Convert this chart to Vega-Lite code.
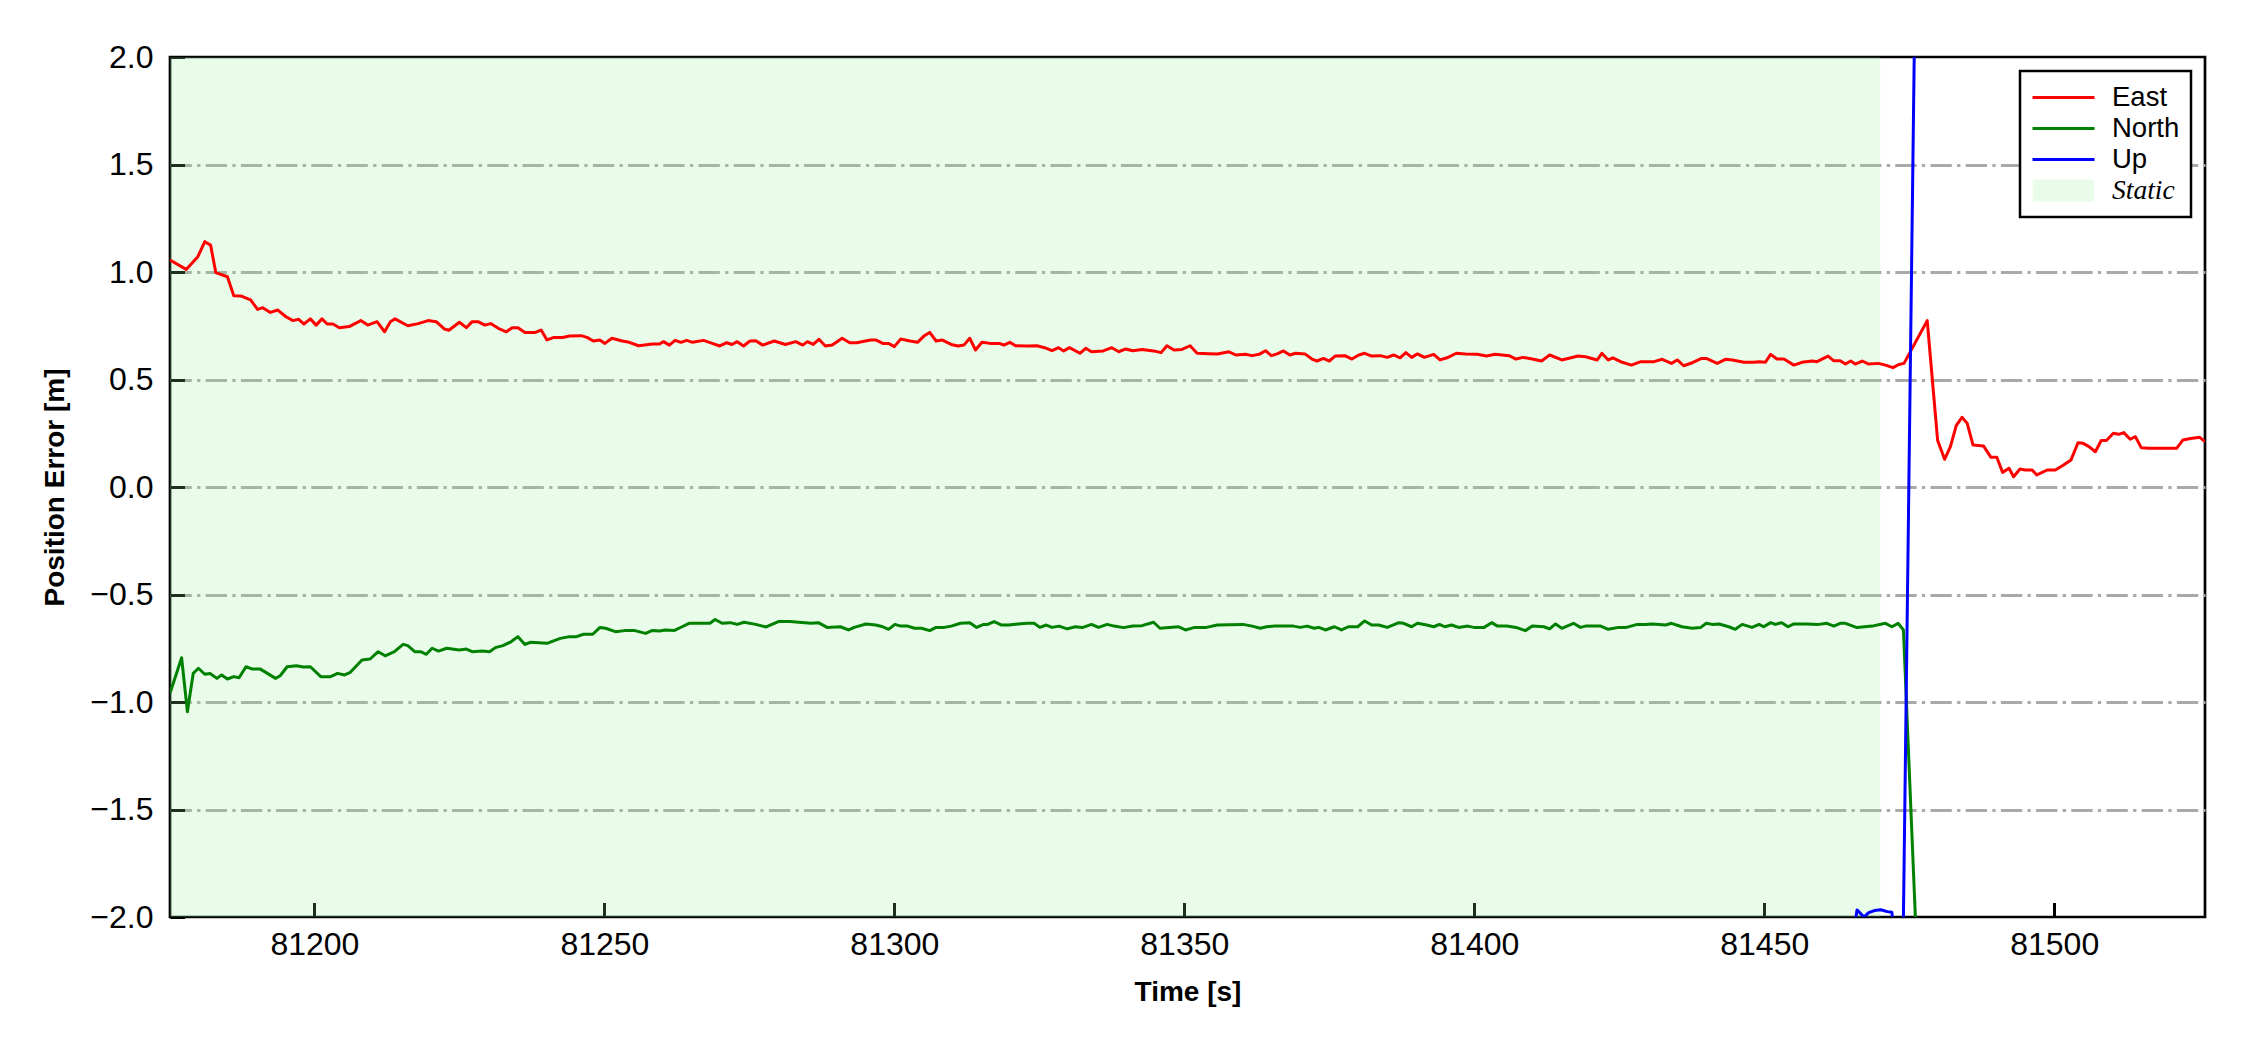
{
  "$schema": "https://vega.github.io/schema/vega-lite/v6.json",
  "width": 2035,
  "height": 860,
  "autosize": "none",
  "padding": {"left": 170, "top": 57, "right": 45, "bottom": 133},
  "background": "white",
  "config": {
    "font": "Liberation Sans",
    "view": {"stroke": "black", "strokeWidth": 2.7}
  },
  "datasets": {
    "static": [{"label": "Static", "start": 81175.1, "end": 81470}],
    "series": [
      {"s":"East","t":81175.1,"v":1.056},{"s":"East","t":81177.9,"v":1.012},{"s":"East","t":81179.9,"v":1.071},{"s":"East","t":81181.1,"v":1.141},{"s":"East","t":81182.1,"v":1.125},{"s":"East","t":81183.0,"v":0.997},{"s":"East","t":81185.0,"v":0.978},{"s":"East","t":81186.1,"v":0.89},{"s":"East","t":81187.4,"v":0.888},{"s":"East","t":81189.0,"v":0.87},{"s":"East","t":81190.2,"v":0.826},{"s":"East","t":81191.1,"v":0.834},{"s":"East","t":81192.4,"v":0.812},{"s":"East","t":81193.7,"v":0.823},{"s":"East","t":81195.1,"v":0.792},{"s":"East","t":81196.3,"v":0.774},{"s":"East","t":81197.3,"v":0.78},{"s":"East","t":81198.2,"v":0.758},{"s":"East","t":81199.3,"v":0.782},{"s":"East","t":81200.3,"v":0.753},{"s":"East","t":81201.3,"v":0.782},{"s":"East","t":81202.2,"v":0.758},{"s":"East","t":81203.2,"v":0.758},{"s":"East","t":81204.3,"v":0.741},{"s":"East","t":81206.0,"v":0.746},{"s":"East","t":81208.0,"v":0.774},{"s":"East","t":81209.2,"v":0.753},{"s":"East","t":81210.8,"v":0.769},{"s":"East","t":81212.1,"v":0.722},{"s":"East","t":81213.1,"v":0.769},{"s":"East","t":81213.9,"v":0.782},{"s":"East","t":81216.1,"v":0.75},{"s":"East","t":81217.9,"v":0.76},{"s":"East","t":81219.6,"v":0.774},{"s":"East","t":81221.0,"v":0.769},{"s":"East","t":81222.4,"v":0.735},{"s":"East","t":81223.2,"v":0.729},{"s":"East","t":81225.0,"v":0.766},{"s":"East","t":81226.2,"v":0.741},{"s":"East","t":81227.2,"v":0.769},{"s":"East","t":81228.2,"v":0.769},{"s":"East","t":81229.4,"v":0.753},{"s":"East","t":81230.4,"v":0.76},{"s":"East","t":81231.7,"v":0.738},{"s":"East","t":81233.1,"v":0.722},{"s":"East","t":81234.1,"v":0.741},{"s":"East","t":81235.1,"v":0.741},{"s":"East","t":81236.3,"v":0.719},{"s":"East","t":81238.1,"v":0.719},{"s":"East","t":81239.1,"v":0.73},{"s":"East","t":81240.1,"v":0.684},{"s":"East","t":81241.2,"v":0.695},{"s":"East","t":81242.8,"v":0.695},{"s":"East","t":81244.0,"v":0.702},{"s":"East","t":81246.0,"v":0.704},{"s":"East","t":81247.0,"v":0.696},{"s":"East","t":81248.1,"v":0.679},{"s":"East","t":81249.2,"v":0.684},{"s":"East","t":81250.1,"v":0.668},{"s":"East","t":81251.3,"v":0.692},{"s":"East","t":81253.1,"v":0.679},{"s":"East","t":81254.3,"v":0.673},{"s":"East","t":81255.9,"v":0.657},{"s":"East","t":81258.3,"v":0.665},{"s":"East","t":81259.5,"v":0.665},{"s":"East","t":81260.2,"v":0.676},{"s":"East","t":81261.2,"v":0.66},{"s":"East","t":81262.2,"v":0.682},{"s":"East","t":81263.2,"v":0.673},{"s":"East","t":81264.2,"v":0.682},{"s":"East","t":81265.2,"v":0.673},{"s":"East","t":81267.1,"v":0.682},{"s":"East","t":81268.6,"v":0.668},{"s":"East","t":81269.9,"v":0.656},{"s":"East","t":81271.1,"v":0.671},{"s":"East","t":81272.0,"v":0.663},{"s":"East","t":81272.9,"v":0.676},{"s":"East","t":81274.0,"v":0.656},{"s":"East","t":81275.1,"v":0.679},{"s":"East","t":81276.1,"v":0.68},{"s":"East","t":81277.3,"v":0.66},{"s":"East","t":81279.3,"v":0.679},{"s":"East","t":81281.2,"v":0.663},{"s":"East","t":81283.0,"v":0.676},{"s":"East","t":81284.2,"v":0.66},{"s":"East","t":81285.0,"v":0.676},{"s":"East","t":81286.0,"v":0.663},{"s":"East","t":81287.0,"v":0.687},{"s":"East","t":81288.1,"v":0.656},{"s":"East","t":81289.3,"v":0.66},{"s":"East","t":81291.0,"v":0.692},{"s":"East","t":81292.3,"v":0.671},{"s":"East","t":81293.5,"v":0.671},{"s":"East","t":81295.9,"v":0.684},{"s":"East","t":81296.8,"v":0.684},{"s":"East","t":81298.0,"v":0.668},{"s":"East","t":81299.0,"v":0.668},{"s":"East","t":81300.0,"v":0.653},{"s":"East","t":81301.1,"v":0.688},{"s":"East","t":81302.7,"v":0.679},{"s":"East","t":81304.0,"v":0.673},{"s":"East","t":81305.1,"v":0.702},{"s":"East","t":81306.1,"v":0.719},{"s":"East","t":81307.2,"v":0.679},{"s":"East","t":81308.2,"v":0.684},{"s":"East","t":81309.8,"v":0.663},{"s":"East","t":81311.0,"v":0.656},{"s":"East","t":81312.0,"v":0.66},{"s":"East","t":81313.0,"v":0.692},{"s":"East","t":81314.0,"v":0.637},{"s":"East","t":81315.1,"v":0.673},{"s":"East","t":81316.5,"v":0.668},{"s":"East","t":81318.1,"v":0.668},{"s":"East","t":81318.9,"v":0.66},{"s":"East","t":81319.9,"v":0.673},{"s":"East","t":81320.9,"v":0.657},{"s":"East","t":81322.9,"v":0.656},{"s":"East","t":81324.6,"v":0.657},{"s":"East","t":81325.9,"v":0.648},{"s":"East","t":81327.2,"v":0.634},{"s":"East","t":81328.3,"v":0.648},{"s":"East","t":81329.2,"v":0.633},{"s":"East","t":81330.2,"v":0.648},{"s":"East","t":81332.0,"v":0.622},{"s":"East","t":81333.0,"v":0.645},{"s":"East","t":81334.0,"v":0.629},{"s":"East","t":81336.0,"v":0.633},{"s":"East","t":81337.5,"v":0.648},{"s":"East","t":81338.7,"v":0.629},{"s":"East","t":81339.9,"v":0.642},{"s":"East","t":81341.1,"v":0.634},{"s":"East","t":81342.7,"v":0.64},{"s":"East","t":81344.7,"v":0.633},{"s":"East","t":81346.0,"v":0.625},{"s":"East","t":81347.0,"v":0.657},{"s":"East","t":81348.2,"v":0.637},{"s":"East","t":81349.6,"v":0.64},{"s":"East","t":81351.0,"v":0.657},{"s":"East","t":81352.2,"v":0.622},{"s":"East","t":81354.2,"v":0.62},{"s":"East","t":81355.7,"v":0.619},{"s":"East","t":81357.7,"v":0.629},{"s":"East","t":81358.9,"v":0.614},{"s":"East","t":81360.5,"v":0.617},{"s":"East","t":81361.7,"v":0.611},{"s":"East","t":81362.9,"v":0.617},{"s":"East","t":81364.0,"v":0.634},{"s":"East","t":81365.0,"v":0.611},{"s":"East","t":81366.0,"v":0.619},{"s":"East","t":81367.1,"v":0.633},{"s":"East","t":81368.2,"v":0.614},{"s":"East","t":81369.2,"v":0.622},{"s":"East","t":81370.8,"v":0.619},{"s":"East","t":81372.0,"v":0.595},{"s":"East","t":81372.9,"v":0.586},{"s":"East","t":81374.0,"v":0.598},{"s":"East","t":81375.0,"v":0.586},{"s":"East","t":81376.0,"v":0.609},{"s":"East","t":81377.7,"v":0.611},{"s":"East","t":81378.9,"v":0.595},{"s":"East","t":81380.1,"v":0.614},{"s":"East","t":81381.1,"v":0.622},{"s":"East","t":81382.3,"v":0.609},{"s":"East","t":81383.8,"v":0.611},{"s":"East","t":81385.0,"v":0.603},{"s":"East","t":81386.1,"v":0.614},{"s":"East","t":81387.2,"v":0.601},{"s":"East","t":81388.2,"v":0.625},{"s":"East","t":81389.2,"v":0.603},{"s":"East","t":81390.2,"v":0.619},{"s":"East","t":81391.4,"v":0.603},{"s":"East","t":81393.0,"v":0.617},{"s":"East","t":81394.1,"v":0.591},{"s":"East","t":81395.3,"v":0.601},{"s":"East","t":81396.9,"v":0.622},{"s":"East","t":81398.5,"v":0.619},{"s":"East","t":81400.5,"v":0.617},{"s":"East","t":81402.1,"v":0.609},{"s":"East","t":81403.6,"v":0.617},{"s":"East","t":81406.0,"v":0.611},{"s":"East","t":81407.2,"v":0.595},{"s":"East","t":81408.4,"v":0.603},{"s":"East","t":81410.0,"v":0.595},{"s":"East","t":81411.6,"v":0.586},{"s":"East","t":81413.0,"v":0.614},{"s":"East","t":81415.1,"v":0.591},{"s":"East","t":81417.9,"v":0.609},{"s":"East","t":81419.2,"v":0.606},{"s":"East","t":81421.2,"v":0.591},{"s":"East","t":81422.0,"v":0.622},{"s":"East","t":81423.1,"v":0.591},{"s":"East","t":81423.9,"v":0.601},{"s":"East","t":81425.5,"v":0.58},{"s":"East","t":81427.1,"v":0.567},{"s":"East","t":81428.7,"v":0.583},{"s":"East","t":81431.0,"v":0.583},{"s":"East","t":81432.4,"v":0.594},{"s":"East","t":81434.0,"v":0.575},{"s":"East","t":81435.0,"v":0.591},{"s":"East","t":81436.1,"v":0.564},{"s":"East","t":81437.6,"v":0.578},{"s":"East","t":81439.2,"v":0.598},{"s":"East","t":81440.0,"v":0.598},{"s":"East","t":81441.9,"v":0.575},{"s":"East","t":81443.3,"v":0.594},{"s":"East","t":81444.5,"v":0.591},{"s":"East","t":81446.5,"v":0.58},{"s":"East","t":81448.2,"v":0.58},{"s":"East","t":81449.1,"v":0.583},{"s":"East","t":81450.2,"v":0.58},{"s":"East","t":81451.1,"v":0.617},{"s":"East","t":81452.2,"v":0.595},{"s":"East","t":81453.4,"v":0.595},{"s":"East","t":81455.1,"v":0.567},{"s":"East","t":81456.5,"v":0.58},{"s":"East","t":81458.3,"v":0.586},{"s":"East","t":81459.1,"v":0.583},{"s":"East","t":81461.0,"v":0.609},{"s":"East","t":81462.0,"v":0.587},{"s":"East","t":81463.1,"v":0.587},{"s":"East","t":81464.0,"v":0.572},{"s":"East","t":81464.9,"v":0.586},{"s":"East","t":81465.7,"v":0.572},{"s":"East","t":81466.9,"v":0.586},{"s":"East","t":81468.0,"v":0.572},{"s":"East","t":81469.7,"v":0.575},{"s":"East","t":81470.9,"v":0.567},{"s":"East","t":81472.2,"v":0.555},{"s":"East","t":81473.2,"v":0.57},{"s":"East","t":81474.1,"v":0.575},{"s":"East","t":81478.1,"v":0.774},{"s":"East","t":81479.9,"v":0.216},{"s":"East","t":81481.1,"v":0.129},{"s":"East","t":81482.1,"v":0.188},{"s":"East","t":81483.1,"v":0.285},{"s":"East","t":81484.1,"v":0.324},{"s":"East","t":81485.0,"v":0.296},{"s":"East","t":81486.0,"v":0.195},{"s":"East","t":81487.8,"v":0.191},{"s":"East","t":81489.1,"v":0.138},{"s":"East","t":81490.1,"v":0.138},{"s":"East","t":81491.1,"v":0.068},{"s":"East","t":81492.2,"v":0.087},{"s":"East","t":81493.0,"v":0.048},{"s":"East","t":81494.1,"v":0.084},{"s":"East","t":81495.0,"v":0.079},{"s":"East","t":81496.2,"v":0.079},{"s":"East","t":81497.0,"v":0.056},{"s":"East","t":81498.8,"v":0.079},{"s":"East","t":81500.2,"v":0.079},{"s":"East","t":81501.6,"v":0.102},{"s":"East","t":81502.9,"v":0.126},{"s":"East","t":81504.1,"v":0.206},{"s":"East","t":81505.0,"v":0.203},{"s":"East","t":81506.0,"v":0.188},{"s":"East","t":81507.1,"v":0.164},{"s":"East","t":81508.1,"v":0.216},{"s":"East","t":81509.0,"v":0.216},{"s":"East","t":81510.2,"v":0.25},{"s":"East","t":81511.1,"v":0.245},{"s":"East","t":81512.0,"v":0.253},{"s":"East","t":81513.1,"v":0.222},{"s":"East","t":81514.0,"v":0.234},{"s":"East","t":81515.0,"v":0.183},{"s":"East","t":81516.3,"v":0.18},{"s":"East","t":81521.1,"v":0.18},{"s":"East","t":81522.2,"v":0.219},{"s":"East","t":81523.5,"v":0.226},{"s":"East","t":81525.1,"v":0.231},{"s":"East","t":81526.0,"v":0.211},
      {"s":"North","t":81175.1,"v":-0.96},{"s":"North","t":81177.1,"v":-0.794},{"s":"North","t":81178.1,"v":-1.045},{"s":"North","t":81179.1,"v":-0.867},{"s":"North","t":81180.0,"v":-0.843},{"s":"North","t":81181.1,"v":-0.871},{"s":"North","t":81182.0,"v":-0.867},{"s":"North","t":81183.2,"v":-0.89},{"s":"North","t":81184.0,"v":-0.874},{"s":"North","t":81185.0,"v":-0.893},{"s":"North","t":81186.1,"v":-0.882},{"s":"North","t":81187.0,"v":-0.887},{"s":"North","t":81188.2,"v":-0.836},{"s":"North","t":81189.2,"v":-0.846},{"s":"North","t":81190.6,"v":-0.846},{"s":"North","t":81191.9,"v":-0.867},{"s":"North","t":81193.3,"v":-0.89},{"s":"North","t":81194.1,"v":-0.878},{"s":"North","t":81195.3,"v":-0.836},{"s":"North","t":81196.9,"v":-0.831},{"s":"North","t":81198.1,"v":-0.837},{"s":"North","t":81199.3,"v":-0.836},{"s":"North","t":81201.1,"v":-0.882},{"s":"North","t":81202.8,"v":-0.882},{"s":"North","t":81204.0,"v":-0.867},{"s":"North","t":81205.2,"v":-0.874},{"s":"North","t":81206.2,"v":-0.862},{"s":"North","t":81208.2,"v":-0.805},{"s":"North","t":81209.6,"v":-0.8},{"s":"North","t":81211.0,"v":-0.766},{"s":"North","t":81212.2,"v":-0.785},{"s":"North","t":81213.8,"v":-0.766},{"s":"North","t":81215.3,"v":-0.732},{"s":"North","t":81216.1,"v":-0.738},{"s":"North","t":81217.3,"v":-0.766},{"s":"North","t":81218.3,"v":-0.766},{"s":"North","t":81219.3,"v":-0.778},{"s":"North","t":81220.3,"v":-0.75},{"s":"North","t":81221.4,"v":-0.763},{"s":"North","t":81222.8,"v":-0.75},{"s":"North","t":81225.0,"v":-0.758},{"s":"North","t":81226.2,"v":-0.754},{"s":"North","t":81227.2,"v":-0.766},{"s":"North","t":81229.0,"v":-0.763},{"s":"North","t":81230.2,"v":-0.766},{"s":"North","t":81231.2,"v":-0.747},{"s":"North","t":81232.5,"v":-0.738},{"s":"North","t":81233.9,"v":-0.72},{"s":"North","t":81235.1,"v":-0.696},{"s":"North","t":81236.3,"v":-0.732},{"s":"North","t":81237.3,"v":-0.722},{"s":"North","t":81240.1,"v":-0.727},{"s":"North","t":81242.4,"v":-0.704},{"s":"North","t":81244.0,"v":-0.696},{"s":"North","t":81245.2,"v":-0.696},{"s":"North","t":81246.4,"v":-0.685},{"s":"North","t":81248.0,"v":-0.685},{"s":"North","t":81249.2,"v":-0.654},{"s":"North","t":81250.2,"v":-0.657},{"s":"North","t":81251.9,"v":-0.673},{"s":"North","t":81253.5,"v":-0.668},{"s":"North","t":81255.1,"v":-0.667},{"s":"North","t":81257.1,"v":-0.681},{"s":"North","t":81258.3,"v":-0.667},{"s":"North","t":81259.5,"v":-0.67},{"s":"North","t":81260.5,"v":-0.665},{"s":"North","t":81262.1,"v":-0.667},{"s":"North","t":81263.4,"v":-0.65},{"s":"North","t":81264.6,"v":-0.634},{"s":"North","t":81268.2,"v":-0.634},{"s":"North","t":81269.1,"v":-0.616},{"s":"North","t":81270.3,"v":-0.634},{"s":"North","t":81271.7,"v":-0.631},{"s":"North","t":81272.9,"v":-0.639},{"s":"North","t":81274.1,"v":-0.629},{"s":"North","t":81276.1,"v":-0.639},{"s":"North","t":81277.9,"v":-0.651},{"s":"North","t":81280.0,"v":-0.626},{"s":"North","t":81282.0,"v":-0.626},{"s":"North","t":81285.6,"v":-0.634},{"s":"North","t":81286.9,"v":-0.631},{"s":"North","t":81288.4,"v":-0.653},{"s":"North","t":81290.7,"v":-0.65},{"s":"North","t":81292.1,"v":-0.665},{"s":"North","t":81293.1,"v":-0.653},{"s":"North","t":81295.1,"v":-0.637},{"s":"North","t":81296.8,"v":-0.642},{"s":"North","t":81298.0,"v":-0.65},{"s":"North","t":81299.0,"v":-0.662},{"s":"North","t":81300.1,"v":-0.639},{"s":"North","t":81301.1,"v":-0.647},{"s":"North","t":81302.3,"v":-0.647},{"s":"North","t":81303.5,"v":-0.657},{"s":"North","t":81304.7,"v":-0.657},{"s":"North","t":81306.1,"v":-0.668},{"s":"North","t":81307.2,"v":-0.653},{"s":"North","t":81308.6,"v":-0.653},{"s":"North","t":81309.8,"v":-0.647},{"s":"North","t":81311.4,"v":-0.634},{"s":"North","t":81313.0,"v":-0.631},{"s":"North","t":81314.2,"v":-0.653},{"s":"North","t":81315.4,"v":-0.639},{"s":"North","t":81316.1,"v":-0.639},{"s":"North","t":81317.2,"v":-0.626},{"s":"North","t":81318.5,"v":-0.642},{"s":"North","t":81319.7,"v":-0.642},{"s":"North","t":81321.3,"v":-0.637},{"s":"North","t":81322.9,"v":-0.634},{"s":"North","t":81324.1,"v":-0.634},{"s":"North","t":81325.1,"v":-0.653},{"s":"North","t":81326.2,"v":-0.642},{"s":"North","t":81327.2,"v":-0.653},{"s":"North","t":81328.4,"v":-0.647},{"s":"North","t":81329.8,"v":-0.66},{"s":"North","t":81331.2,"v":-0.65},{"s":"North","t":81332.4,"v":-0.654},{"s":"North","t":81334.0,"v":-0.639},{"s":"North","t":81335.2,"v":-0.653},{"s":"North","t":81336.7,"v":-0.639},{"s":"North","t":81337.9,"v":-0.647},{"s":"North","t":81339.5,"v":-0.654},{"s":"North","t":81341.1,"v":-0.647},{"s":"North","t":81342.7,"v":-0.645},{"s":"North","t":81344.7,"v":-0.629},{"s":"North","t":81345.8,"v":-0.657},{"s":"North","t":81347.4,"v":-0.653},{"s":"North","t":81349.0,"v":-0.65},{"s":"North","t":81350.2,"v":-0.665},{"s":"North","t":81351.8,"v":-0.653},{"s":"North","t":81353.8,"v":-0.653},{"s":"North","t":81355.7,"v":-0.642},{"s":"North","t":81360.1,"v":-0.639},{"s":"North","t":81361.7,"v":-0.647},{"s":"North","t":81363.1,"v":-0.657},{"s":"North","t":81364.2,"v":-0.65},{"s":"North","t":81365.6,"v":-0.647},{"s":"North","t":81368.8,"v":-0.647},{"s":"North","t":81370.0,"v":-0.653},{"s":"North","t":81371.2,"v":-0.647},{"s":"North","t":81372.4,"v":-0.657},{"s":"North","t":81373.2,"v":-0.653},{"s":"North","t":81374.3,"v":-0.665},{"s":"North","t":81375.9,"v":-0.65},{"s":"North","t":81377.1,"v":-0.665},{"s":"North","t":81378.3,"v":-0.65},{"s":"North","t":81379.9,"v":-0.65},{"s":"North","t":81381.1,"v":-0.623},{"s":"North","t":81382.3,"v":-0.642},{"s":"North","t":81383.5,"v":-0.642},{"s":"North","t":81385.0,"v":-0.653},{"s":"North","t":81387.0,"v":-0.631},{"s":"North","t":81387.8,"v":-0.634},{"s":"North","t":81389.2,"v":-0.65},{"s":"North","t":81390.2,"v":-0.634},{"s":"North","t":81391.8,"v":-0.642},{"s":"North","t":81393.0,"v":-0.65},{"s":"North","t":81394.0,"v":-0.639},{"s":"North","t":81394.9,"v":-0.65},{"s":"North","t":81396.1,"v":-0.642},{"s":"North","t":81397.3,"v":-0.653},{"s":"North","t":81398.9,"v":-0.647},{"s":"North","t":81400.1,"v":-0.654},{"s":"North","t":81401.7,"v":-0.653},{"s":"North","t":81403.0,"v":-0.631},{"s":"North","t":81404.0,"v":-0.647},{"s":"North","t":81405.6,"v":-0.647},{"s":"North","t":81407.2,"v":-0.653},{"s":"North","t":81408.8,"v":-0.668},{"s":"North","t":81410.0,"v":-0.647},{"s":"North","t":81412.0,"v":-0.65},{"s":"North","t":81413.0,"v":-0.66},{"s":"North","t":81414.0,"v":-0.637},{"s":"North","t":81415.1,"v":-0.657},{"s":"North","t":81417.1,"v":-0.634},{"s":"North","t":81418.3,"v":-0.653},{"s":"North","t":81419.2,"v":-0.647},{"s":"North","t":81421.8,"v":-0.647},{"s":"North","t":81423.1,"v":-0.662},{"s":"North","t":81424.9,"v":-0.653},{"s":"North","t":81426.1,"v":-0.654},{"s":"North","t":81428.1,"v":-0.639},{"s":"North","t":81429.5,"v":-0.639},{"s":"North","t":81430.7,"v":-0.637},{"s":"North","t":81433.0,"v":-0.642},{"s":"North","t":81434.0,"v":-0.634},{"s":"North","t":81435.8,"v":-0.65},{"s":"North","t":81437.6,"v":-0.657},{"s":"North","t":81439.0,"v":-0.654},{"s":"North","t":81440.0,"v":-0.634},{"s":"North","t":81441.0,"v":-0.639},{"s":"North","t":81442.2,"v":-0.637},{"s":"North","t":81443.9,"v":-0.65},{"s":"North","t":81445.0,"v":-0.662},{"s":"North","t":81446.2,"v":-0.639},{"s":"North","t":81447.9,"v":-0.653},{"s":"North","t":81449.1,"v":-0.639},{"s":"North","t":81449.9,"v":-0.65},{"s":"North","t":81451.1,"v":-0.631},{"s":"North","t":81451.9,"v":-0.639},{"s":"North","t":81453.0,"v":-0.631},{"s":"North","t":81454.1,"v":-0.65},{"s":"North","t":81455.1,"v":-0.637},{"s":"North","t":81457.1,"v":-0.637},{"s":"North","t":81459.4,"v":-0.639},{"s":"North","t":81460.8,"v":-0.634},{"s":"North","t":81462.0,"v":-0.647},{"s":"North","t":81463.1,"v":-0.634},{"s":"North","t":81464.0,"v":-0.634},{"s":"North","t":81466.0,"v":-0.654},{"s":"North","t":81468.6,"v":-0.647},{"s":"North","t":81470.9,"v":-0.634},{"s":"North","t":81472.0,"v":-0.65},{"s":"North","t":81473.1,"v":-0.634},{"s":"North","t":81474.0,"v":-0.665},{"s":"North","t":81478.0,"v":-3.26},{"s":"North","t":81500.0,"v":-3.5},{"s":"North","t":81526.0,"v":-3.4},
      {"s":"Up","t":81175.1,"v":-2.6},{"s":"Up","t":81300.0,"v":-2.5},{"s":"Up","t":81400.0,"v":-2.45},{"s":"Up","t":81464.0,"v":-2.3},{"s":"Up","t":81465.0,"v":-2.15},{"s":"Up","t":81466.0,"v":-1.967},{"s":"Up","t":81467.2,"v":-2.0},{"s":"Up","t":81468.0,"v":-1.98},{"s":"Up","t":81469.0,"v":-1.97},{"s":"Up","t":81470.1,"v":-1.966},{"s":"Up","t":81471.2,"v":-1.975},{"s":"Up","t":81472.0,"v":-1.978},{"s":"Up","t":81473.0,"v":-2.2},{"s":"Up","t":81474.0,"v":-2.0},{"s":"Up","t":81478.0,"v":6.6},{"s":"Up","t":81500.0,"v":6.0},{"s":"Up","t":81526.0,"v":5.8}
    ]
  },
  "layer": [
    {
      "data": {"name": "static"},
      "mark": {"type": "rect", "color": "lightgreen", "opacity": 0.2, "clip": true},
      "encoding": {
        "x": {"field": "start", "type": "quantitative", "scale": {"domain": [81175.1, 81526], "nice": false, "zero": false}},
        "x2": {"field": "end"}
      }
    },
    {
      "data": {"name": "series"},
      "mark": {"type": "line", "strokeWidth": 3, "strokeJoin": "round", "clip": true},
      "encoding": {
        "x": {
          "field": "t", "type": "quantitative",
          "scale": {"domain": [81175.1, 81526], "nice": false, "zero": false},
          "axis": {
            "title": "Time [s]", "values": [81200, 81250, 81300, 81350, 81400, 81450, 81500], "format": "d",
            "grid": false, "domain": false, "offset": -14.5, "ticks": true, "tickSize": 14.5, "tickWidth": 3, "tickColor": "black",
            "labelFontSize": 32, "labelPadding": 12.7, "labelColor": "black", "labelFont": "Liberation Sans",
            "labelFlush": false, "labelOverlap": false,
            "titleFontSize": 28, "titleFont": "Liberation Sans", "titleFontWeight": "bold", "titleColor": "black",
            "titleBaseline": "alphabetic", "titleY": 97.5
          }
        },
        "y": {
          "field": "v", "type": "quantitative",
          "scale": {"domain": [-2, 2], "nice": false, "zero": false},
          "axis": {
            "title": "Position Error [m]", "values": [-2, -1.5, -1, -0.5, 0, 0.5, 1, 1.5, 2], "format": ".1f",
            "grid": true, "gridColor": "#a9a9a9", "gridWidth": 3, "gridDash": [21.3, 5.3, 3.3, 5.3],
            "gridOpacity": {"condition": {"test": "abs(datum.value) >= 2", "value": 0}, "value": 1},
            "domain": false, "offset": -14.5, "ticks": true, "tickSize": 14.5, "tickWidth": 3, "tickColor": "black",
            "labelFontSize": 32, "labelPadding": 17, "labelColor": "black", "labelFont": "Liberation Sans",
            "labelFlush": false, "labelOverlap": false,
            "titleFontSize": 28, "titleFont": "Liberation Sans", "titleFontWeight": "bold", "titleColor": "black",
            "titleBaseline": "alphabetic", "titleX": -121.5
          }
        },
        "color": {
          "field": "s", "type": "nominal",
          "scale": {"domain": ["East", "North", "Up", "Static"], "range": ["#ff0000", "#008000", "#0000ff", "#e9fce9"]},
          "legend": {
            "title": null, "orient": "top-right", "offset": 14, "padding": 11, "rowPadding": 0,
            "clipHeight": 31, "symbolSize": 3844, "symbolType": "stroke", "symbolStrokeWidth": 3,
            "labelFontSize": 27.5, "labelOffset": 16, "labelFont": "Liberation Sans", "labelColor": "black",
            "strokeColor": "black", "fillColor": "white",
            "encode": {
              "symbols": {"update": {
                "shape": {"signal": "datum.value === 'Static' ? 'M-0.94,-0.31H0.94V0.31H-0.94Z' : 'stroke'"},
                "fill": {"signal": "datum.value === 'Static' ? '#e9fce9' : 'transparent'"},
                "stroke": {"signal": "datum.value === 'East' ? '#ff0000' : datum.value === 'North' ? '#008000' : datum.value === 'Up' ? '#0000ff' : 'transparent'"},
                "strokeWidth": {"value": 3},
                "opacity": {"value": 1}
              }},
              "labels": {"update": {
                "font": {"signal": "datum.value === 'Static' ? 'Liberation Serif' : 'Liberation Sans'"},
                "fontStyle": {"signal": "datum.value === 'Static' ? 'italic' : 'normal'"}
              }},
              "legend": {"update": {"strokeWidth": {"value": 2.5}}}
            }
          }
        }
      }
    }
  ]
}
